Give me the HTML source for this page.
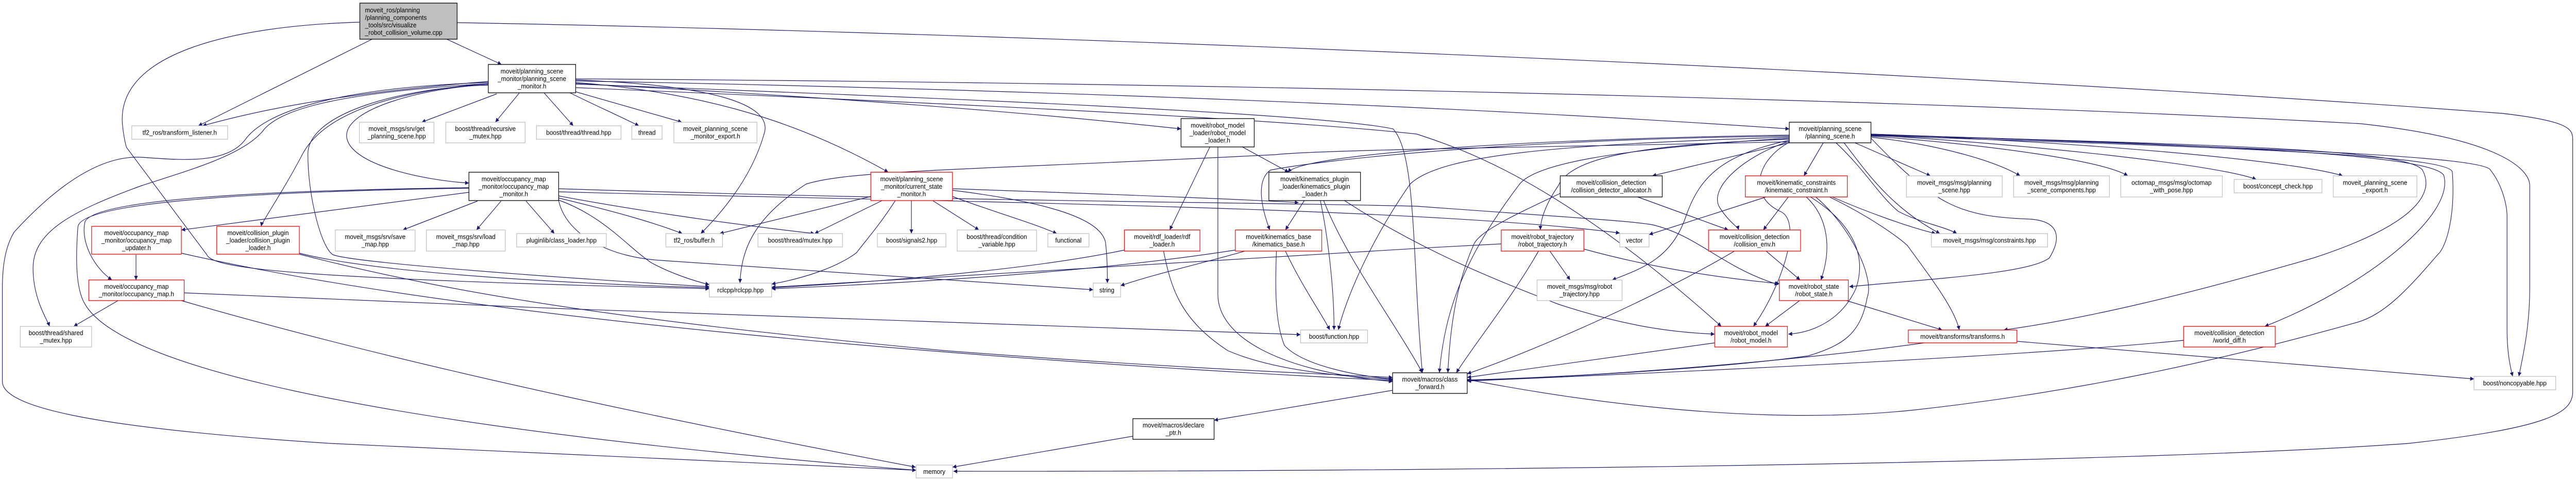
<!DOCTYPE html>
<html><head><meta charset="utf-8"><style>
html,body{margin:0;padding:0;background:#fff;width:100%;height:100%;overflow:hidden;}
svg{display:block;position:fixed;left:0;top:0;width:100vw;height:100vh;}
text{font-family:"Liberation Sans",sans-serif;font-size:13px;fill:#000;text-anchor:middle;}
.e{fill:none;stroke:#191970;stroke-width:1.2;marker-end:url(#a);}
.b{fill:#fff;stroke:#000;stroke-width:1.3;}
.r{fill:#fff;stroke:#ff0000;stroke-width:1.3;}
.g{fill:#fff;stroke:#bfbfbf;stroke-width:1.3;}
</style></head><body>
<svg viewBox="0 0 5455 929" preserveAspectRatio="none" xmlns="http://www.w3.org/2000/svg">
<defs><marker id="a" viewBox="0 0 10 10" refX="10" refY="5" markerWidth="10" markerHeight="8" markerUnits="userSpaceOnUse" orient="auto"><path d="M0,0 L10,5 L0,10 z" fill="#191970"/></marker></defs>

<path class="e" d="M788,76 L420,244"/>
<path class="e" d="M946,76 L1062,125"/>
<path class="e" d="M762,43 C500,50 250,100 259,238 C262,270 268,286 268,286 L438,494 C450,520 600,540 1502,560"/>
<path class="e" d="M968,44 C2000,60 4000,130 5300,220 C5440,235 5448,250 5448,270 L5448,760 C5448,800 5400,830 5100,860 C4500,900 3000,915 2019,914"/>
<path class="e" d="M1034,158 C800,175 600,200 429,244"/>
<path class="e" d="M1034,160 C700,170 560,220 520,270 C480,320 380,310 300,305 C200,300 100,380 30,450 C10,480 5,520 5,560 L5,740 C5,790 200,830 700,860 L1940,912"/>
<path class="e" d="M1034,162 C720,180 600,210 560,250 C520,300 400,330 300,360 C150,410 70,450 70,520 C70,580 100,620 105,633"/>
<path class="e" d="M1034,162 C800,180 680,230 640,300 C600,370 555,430 553,439"/>
<path class="e" d="M1034,164 C900,170 730,210 734,265 C740,320 900,350 993,355"/>
<path class="e" d="M1034,165 C850,170 650,220 652,300 C652,380 680,480 705,494 C750,510 1200,540 1502,556"/>
<path class="e" d="M1052,182 L893,237"/>
<path class="e" d="M1100,180 L1049,237"/>
<path class="e" d="M1152,180 L1214,244"/>
<path class="e" d="M1207,180 C1250,200 1300,220 1353,244"/>
<path class="e" d="M1219,178 L1444,237"/>
<path class="e" d="M1219,155 C1500,165 1640,200 1618,260 C1590,350 1520,420 1484,453"/>
<path class="e" d="M1219,160 C1500,180 1700,240 1881,334"/>
<path class="e" d="M1219,162 C1800,190 2200,220 2501,250"/>
<path class="e" d="M1219,157 C2000,170 3000,200 3789,250"/>
<path class="e" d="M1219,153 C2500,160 4000,190 5000,240 C5300,270 5357,330 5357,360 L5357,560 C5357,640 5340,700 5334,730"/>
<path class="e" d="M1219,163 C2000,190 2800,220 2950,250 C3000,300 2990,500 3012,723"/>
<path class="e" d="M1219,170 C2000,200 2700,230 3000,260 C3100,290 3300,350 3645,633"/>
<path class="e" d="M993,364 C500,370 200,390 180,430 C170,470 200,520 237,543"/>
<path class="e" d="M993,365 C500,372 170,395 165,440 C160,500 160,560 180,590 C250,700 700,820 1940,912"/>
<path class="e" d="M993,373 L384,446"/>
<path class="e" d="M1011,390 L853,446"/>
<path class="e" d="M1061,390 L1009,446"/>
<path class="e" d="M1114,390 L1174,453"/>
<path class="e" d="M1183,366 C2000,390 2700,393 3000,400 C3300,420 3480,430 3504,437 C3600,460 3650,520 3766,552"/>
<path class="e" d="M1183,372 C1900,390 3000,400 3430,452"/>
<path class="e" d="M1183,380 C1300,400 1500,430 1725,453"/>
<path class="e" d="M1183,384 C1300,410 1380,430 1445,453"/>
<path class="e" d="M1183,388 C1280,420 1330,480 1380,510 C1420,530 1470,545 1502,552"/>
<path class="e" d="M1183,389 C1200,460 1300,500 1400,505 C1700,525 2000,540 2315,562"/>
<path class="e" d="M1844,381 L1524,453"/>
<path class="e" d="M1868,389 L1725,453"/>
<path class="e" d="M1930,389 L1930,453"/>
<path class="e" d="M1975,389 L2073,446"/>
<path class="e" d="M2017,381 C2100,410 2180,430 2238,453"/>
<path class="e" d="M2017,369 C2200,390 2330,420 2341,470 C2345,500 2345,530 2345,549"/>
<path class="e" d="M1896,389 C1860,440 1830,470 1814,490 C1770,520 1700,540 1634,551"/>
<path class="e" d="M2017,366 C2300,375 2600,385 2750,393"/>
<path class="e" d="M3789,275 C3300,285 2800,290 2700,300 C2050,330 1800,330 1707,357 C1600,420 1570,480 1567,549"/>
<path class="e" d="M2381,485 C2200,520 1900,545 1634,558"/>
<path class="e" d="M2464,487 C2480,560 2500,620 2600,680 C2700,720 2850,730 2949,736"/>
<path class="e" d="M2562,285 L2477,446"/>
<path class="e" d="M2579,285 L2579,571 C2579,650 2700,720 2949,740"/>
<path class="e" d="M2631,285 L2729,334"/>
<path class="e" d="M2762,389 L2722,446"/>
<path class="e" d="M2796,389 C2810,450 2825,550 2825,640"/>
<path class="e" d="M2803,389 C2850,500 2950,620 3012,723"/>
<path class="e" d="M2847,389 C3000,480 3146,536 3300,590 C3450,635 3550,645 3631,648"/>
<path class="e" d="M2616,485 C2300,530 1900,550 1634,560"/>
<path class="e" d="M2636,487 C2550,510 2450,530 2373,554"/>
<path class="e" d="M2722,487 C2760,560 2800,610 2816,640"/>
<path class="e" d="M2703,487 C2700,560 2700,625 2720,670 C2760,710 2880,730 2949,735"/>
<path class="e" d="M3789,262 C3200,270 2760,300 2727,334"/>
<path class="e" d="M3789,264 C3200,270 2800,310 2690,330 C2660,350 2670,400 2689,446"/>
<path class="e" d="M3789,266 C3300,280 3050,300 2986,357 C2900,470 2850,580 2834,640"/>
<path class="e" d="M3789,268 C3400,290 3250,320 3218,357 C3100,500 3060,600 3048,723"/>
<path class="e" d="M3789,277 L3499,341"/>
<path class="e" d="M3789,270 C3500,280 3330,300 3300,360 C3270,400 3262,430 3262,446"/>
<path class="e" d="M3789,272 C3650,300 3600,340 3570,420 C3540,500 3480,520 3414,543"/>
<path class="e" d="M3789,274 C3700,300 3620,360 3640,400 C3660,430 3680,440 3682,446"/>
<path class="e" d="M3861,277 L3820,341"/>
<path class="e" d="M3789,276 C3720,310 3700,380 3770,410 C3820,430 3770,560 3713,633"/>
<path class="e" d="M3888,277 C3950,330 3980,380 4020,410 C4060,430 4120,440 4144,453"/>
<path class="e" d="M3905,277 C3950,330 4000,400 4108,453"/>
<path class="e" d="M3928,277 L4088,341"/>
<path class="e" d="M3962,266 C4100,280 4220,310 4278,341"/>
<path class="e" d="M3962,264 C4200,280 4450,310 4506,341"/>
<path class="e" d="M3962,262 C4300,280 4700,320 4778,348"/>
<path class="e" d="M3962,260 C4400,275 4850,310 4961,341"/>
<path class="e" d="M3962,262 C4700,280 5100,290 5130,330 C5160,380 5100,440 4900,500 C4600,580 4400,620 4243,640"/>
<path class="e" d="M3962,261 C4700,280 5150,300 5175,340 C5200,420 5000,560 4796,633"/>
<path class="e" d="M3962,263 C4700,285 5180,300 5193,333 C5200,420 5180,480 5162,494 C5100,560 5050,610 4992,625 C4700,700 4400,760 4055,795 C3700,830 3300,770 3107,736"/>
<path class="e" d="M3962,260 C4700,285 5260,300 5274,330 C5300,360 5309,400 5309,420 L5309,640 C5309,680 5315,710 5321,730"/>
<path class="e" d="M3962,268 C4100,400 4150,420 4300,425 C4370,430 4360,470 4340,500 C4300,530 4100,540 3916,556"/>
<path class="e" d="M3740,382 L3492,455"/>
<path class="e" d="M3787,382 L3734,446"/>
<path class="e" d="M3825,382 C3870,420 3880,480 3856,543"/>
<path class="e" d="M3834,382 C3900,420 3960,480 3930,560 C3900,620 3840,645 3787,648"/>
<path class="e" d="M3845,382 C3920,440 3970,540 3954,577 C3940,650 3900,670 3830,690 C3600,720 3200,735 3107,738"/>
<path class="e" d="M3874,382 C3960,420 4020,460 4039,476 C4090,540 4140,600 4149,640"/>
<path class="e" d="M3880,382 C3950,410 4040,440 4099,453"/>
<path class="e" d="M3468,382 L3660,446"/>
<path class="e" d="M3304,375 C3200,420 3130,450 3120,476 C3080,560 3070,650 3066,723"/>
<path class="e" d="M3179,473 C2600,500 2000,540 1634,557"/>
<path class="e" d="M3282,487 L3325,543"/>
<path class="e" d="M3354,483 C3500,520 3650,540 3768,550"/>
<path class="e" d="M3258,487 C3200,580 3120,670 3084,723"/>
<path class="e" d="M3740,487 L3812,543"/>
<path class="e" d="M3673,487 C3500,580 3250,680 3107,725"/>
<path class="e" d="M3811,583 L3738,633"/>
<path class="e" d="M3910,583 L4113,640"/>
<path class="e" d="M3631,665 L3107,732"/>
<path class="e" d="M4075,665 C3800,700 3400,730 3107,737"/>
<path class="e" d="M4271,662 L5239,735"/>
<path class="e" d="M4624,660 C4300,690 3600,720 3107,739"/>
<path class="e" d="M2949,757 L2571,815"/>
<path class="e" d="M2399,846 L2017,906"/>
<path class="e" d="M250,583 L156,633"/>
<path class="e" d="M384,583 C900,720 1500,830 1939,906"/>
<path class="e" d="M390,568 C1200,600 2300,640 2754,649"/>
<path class="e" d="M288,494 L288,543"/>
<path class="e" d="M384,491 C1000,620 2100,700 2949,738"/>
<path class="e" d="M634,491 C800,530 1200,550 1502,558"/>
<path class="e" d="M634,493 C1000,580 1400,628 2000,680 C2500,715 2800,725 2949,732"/>

<rect x="762" y="6" width="206" height="70" fill="#bfbfbf" stroke="#000" stroke-width="1.3"/>
<text x="773" y="24" style="text-anchor:start">moveit_ros/planning</text>
<text x="773" y="38.5" style="text-anchor:start">/planning_components</text>
<text x="773" y="53" style="text-anchor:start">_tools/src/visualize</text>
<text x="773" y="67.5" style="text-anchor:start">_robot_collision_volume.cpp</text>

<rect class="b" x="1034" y="125" width="185" height="55"/>
<text x="1126.5" y="142.5">moveit/planning_scene</text><text x="1126.5" y="157">_monitor/planning_scene</text><text x="1126.5" y="171.5">_monitor.h</text>

<rect class="g" x="279" y="244" width="203" height="26"/><text x="380.5" y="261.5">tf2_ros/transform_listener.h</text>
<rect class="g" x="761" y="237" width="158" height="40"/><text x="840" y="254.25">moveit_msgs/srv/get</text><text x="840" y="268.75">_planning_scene.hpp</text>
<rect class="g" x="944" y="237" width="168" height="40"/><text x="1028" y="254.25">boost/thread/recursive</text><text x="1028" y="268.75">_mutex.hpp</text>
<rect class="g" x="1136" y="244" width="179" height="26"/><text x="1225.5" y="261.5">boost/thread/thread.hpp</text>
<rect class="g" x="1338" y="244" width="64" height="26"/><text x="1370" y="261.5">thread</text>
<rect class="g" x="1427" y="237" width="176" height="40"/><text x="1515" y="254.25">moveit_planning_scene</text><text x="1515" y="268.75">_monitor_export.h</text>

<rect class="b" x="993" y="334" width="190" height="55"/>
<text x="1088" y="351.5">moveit/occupancy_map</text><text x="1088" y="366">_monitor/occupancy_map</text><text x="1088" y="380.5">_monitor.h</text>

<rect class="r" x="194" y="439" width="190" height="54"/>
<text x="289" y="456">moveit/occupancy_map</text><text x="289" y="470.5">_monitor/occupancy_map</text><text x="289" y="485">_updater.h</text>
<rect class="r" x="459" y="439" width="175" height="54"/>
<text x="546.5" y="456">moveit/collision_plugin</text><text x="546.5" y="470.5">_loader/collision_plugin</text><text x="546.5" y="485">_loader.h</text>
<rect class="g" x="710" y="446" width="169" height="41"/><text x="794.5" y="463.75">moveit_msgs/srv/save</text><text x="794.5" y="478.25">_map.hpp</text>
<rect class="g" x="903" y="446" width="167" height="41"/><text x="986.5" y="463.75">moveit_msgs/srv/load</text><text x="986.5" y="478.25">_map.hpp</text>
<rect class="g" x="1094" y="453" width="190" height="26"/><text x="1189" y="470.5">pluginlib/class_loader.hpp</text>
<rect class="r" x="188" y="543" width="202" height="40"/><text x="289" y="560.25">moveit/occupancy_map</text><text x="289" y="574.75">_monitor/occupancy_map.h</text>
<rect class="g" x="43" y="633" width="151" height="40"/><text x="118.5" y="650.25">boost/thread/shared</text><text x="118.5" y="664.75">_mutex.hpp</text>

<rect class="b" x="2501" y="230" width="155" height="55"/>
<text x="2578.5" y="247.5">moveit/robot_model</text><text x="2578.5" y="262">_loader/robot_model</text><text x="2578.5" y="276.5">_loader.h</text>
<rect class="r" x="1844" y="334" width="173" height="55"/>
<text x="1930.5" y="351.5">moveit/planning_scene</text><text x="1930.5" y="366">_monitor/current_state</text><text x="1930.5" y="380.5">_monitor.h</text>
<rect class="g" x="1410" y="453" width="120" height="26"/><text x="1470" y="470.5">tf2_ros/buffer.h</text>
<rect class="g" x="1605" y="453" width="179" height="26"/><text x="1694.5" y="470.5">boost/thread/mutex.hpp</text>
<rect class="g" x="1858" y="453" width="145" height="26"/><text x="1930.5" y="470.5">boost/signals2.hpp</text>
<rect class="g" x="2027" y="446" width="168" height="41"/><text x="2111" y="463.75">boost/thread/condition</text><text x="2111" y="478.25">_variable.hpp</text>
<rect class="g" x="2219" y="453" width="87" height="26"/><text x="2262.5" y="470.5">functional</text>
<rect class="r" x="2381" y="446" width="160" height="41"/><text x="2461" y="463.75">moveit/rdf_loader/rdf</text><text x="2461" y="478.25">_loader.h</text>
<rect class="r" x="2616" y="446" width="183" height="41"/><text x="2707.5" y="463.75">moveit/kinematics_base</text><text x="2707.5" y="478.25">/kinematics_base.h</text>
<rect class="b" x="2687" y="334" width="194" height="55"/>
<text x="2784" y="351.5">moveit/kinematics_plugin</text><text x="2784" y="366">_loader/kinematics_plugin</text><text x="2784" y="380.5">_loader.h</text>
<rect class="g" x="1502" y="549" width="132" height="27"/><text x="1568" y="567">rclcpp/rclcpp.hpp</text>
<rect class="g" x="2315" y="549" width="58" height="27"/><text x="2344" y="567">string</text>
<rect class="b" x="2399" y="812" width="172" height="40"/><text x="2485" y="829.25">moveit/macros/declare</text><text x="2485" y="843.75">_ptr.h</text>
<rect class="g" x="1940" y="902" width="77" height="25"/><text x="1978.5" y="919">memory</text>

<rect class="b" x="3789" y="237" width="173" height="40"/><text x="3875.5" y="254.25">moveit/planning_scene</text><text x="3875.5" y="268.75">/planning_scene.h</text>
<rect class="b" x="3304" y="341" width="216" height="41"/><text x="3412" y="358.75">moveit/collision_detection</text><text x="3412" y="373.25">/collision_detector_allocator.h</text>
<rect class="r" x="3696" y="341" width="216" height="41"/><text x="3804" y="358.75">moveit/kinematic_constraints</text><text x="3804" y="373.25">/kinematic_constraint.h</text>
<rect class="g" x="4037" y="341" width="203" height="41"/><text x="4138.5" y="358.75">moveit_msgs/msg/planning</text><text x="4138.5" y="373.25">_scene.hpp</text>
<rect class="r" x="3179" y="446" width="175" height="41"/><text x="3266.5" y="463.75">moveit/robot_trajectory</text><text x="3266.5" y="478.25">/robot_trajectory.h</text>
<rect class="g" x="3430" y="453" width="62" height="26"/><text x="3461" y="470.5">vector</text>
<rect class="r" x="3618" y="446" width="195" height="41"/><text x="3715.5" y="463.75">moveit/collision_detection</text><text x="3715.5" y="478.25">/collision_env.h</text>
<rect class="g" x="4090" y="453" width="246" height="26"/><text x="4213" y="470.5">moveit_msgs/msg/constraints.hpp</text>
<rect class="g" x="3255" y="543" width="180" height="40"/><text x="3345" y="560.25">moveit_msgs/msg/robot</text><text x="3345" y="574.75">_trajectory.hpp</text>
<rect class="r" x="3768" y="543" width="146" height="40"/><text x="3841" y="560.25">moveit/robot_state</text><text x="3841" y="574.75">/robot_state.h</text>
<rect class="g" x="2754" y="640" width="142" height="25"/><text x="2825" y="657">boost/function.hpp</text>
<rect class="r" x="3631" y="633" width="154" height="40"/><text x="3708" y="650.25">moveit/robot_model</text><text x="3708" y="664.75">/robot_model.h</text>
<rect class="r" x="4041" y="640" width="230" height="25"/><text x="4156" y="657">moveit/transforms/transforms.h</text>
<rect class="b" x="2949" y="723" width="158" height="40"/><text x="3028" y="740.25">moveit/macros/class</text><text x="3028" y="754.75">_forward.h</text>
<rect class="g" x="4264" y="341" width="203" height="41"/><text x="4365.5" y="358.75">moveit_msgs/msg/planning</text><text x="4365.5" y="373.25">_scene_components.hpp</text>
<rect class="g" x="4491" y="341" width="215" height="41"/><text x="4598.5" y="358.75">octomap_msgs/msg/octomap</text><text x="4598.5" y="373.25">_with_pose.hpp</text>
<rect class="g" x="4731" y="348" width="186" height="26"/><text x="4824" y="365.5">boost/concept_check.hpp</text>
<rect class="g" x="4941" y="341" width="177" height="41"/><text x="5029.5" y="358.75">moveit_planning_scene</text><text x="5029.5" y="373.25">_export.h</text>
<rect class="r" x="4624" y="633" width="194" height="40"/><text x="4721" y="650.25">moveit/collision_detection</text><text x="4721" y="664.75">/world_diff.h</text>
<rect class="g" x="5239" y="730" width="173" height="26"/><text x="5325.5" y="747.5">boost/noncopyable.hpp</text>
</svg>
</body></html>
